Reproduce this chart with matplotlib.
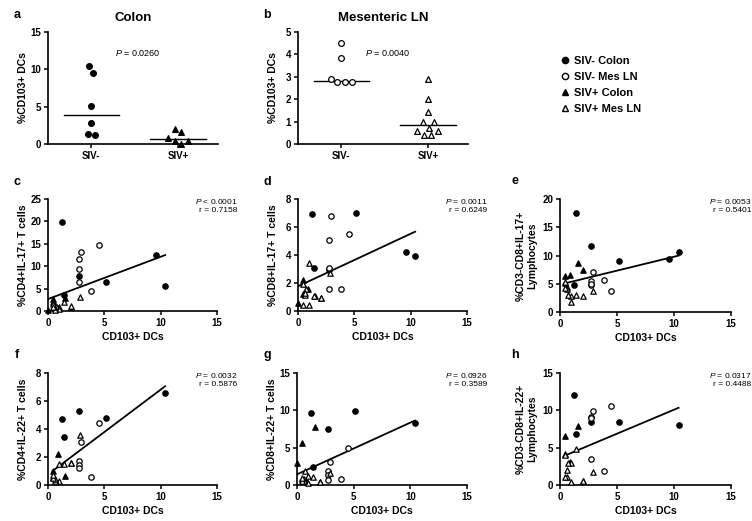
import numpy as np
import matplotlib
matplotlib.use("Agg")
import matplotlib.pyplot as plt
from matplotlib.lines import Line2D

plt.rcParams['font.family'] = ['Liberation Sans', 'DejaVu Sans']
plt.rcParams['mathtext.fontset'] = 'custom'
plt.rcParams['mathtext.it'] = 'Liberation Sans:italic'
plt.rcParams['mathtext.rm'] = 'Liberation Sans'

nan = np.nan

# %CD103+ DCs per group (panels a and b, and x values of panels c-h)
colon_neg_x = [10.4, 9.55, 5.15, 2.75, 1.2, 1.4]
colon_pos_x = [2.0, 1.55, 0.85, 0.4, 0.4, 0.0]
mes_neg_x = [4.5, 3.86, 2.76, 2.76, 2.76, 2.9]
mes_pos_x = [2.88, 2.02, 1.41, 0.96, 0.96, 0.73, 0.58, 0.58, 0.42, 0.42]

# y values of the correlation panels, same order as the x lists above
c_colon_neg = [5.6, 12.6, 6.5, 7.8, 19.9, 3.5]
c_mes_neg = [14.8, 4.5, 11.6, 9.3, 6.5, 13.1]
c_colon_pos = [1.0, 3.0, 0.7, 2.6, 2.0, 0.2]
c_mes_pos = [3.1, 1.1, 1.9, 0.9, 0.5, 1.2, 0.6, 0.3, 1.5, 0.8]

d_colon_neg = [3.95, 4.2, 7.0, 2.9, 6.95, 3.1]
d_mes_neg = [5.5, 1.55, 5.1, 1.55, 3.1, 6.8]
d_colon_pos = [0.95, 1.1, 1.6, 2.2, 1.2, 0.6]
d_mes_pos = [2.7, 0.95, 1.1, 3.4, 0.4, 1.6, 1.15, 1.3, 1.9, 0.4]

e_colon_neg = [10.6, 9.3, 9.0, 11.6, 4.8, 17.5]
e_mes_neg = [3.7, 5.7, 5.5, 4.8, 5.0, 7.0]
e_colon_pos = [7.4, 8.6, 6.5, 6.4, 5.2, nan]
e_mes_pos = [3.7, 2.8, 3.0, 1.8, 2.9, 3.0, 4.5, 4.0, 5.3, 4.2]

f_colon_neg = [6.6, nan, 4.8, 5.3, 4.75, 3.4]
f_mes_neg = [4.4, 0.55, 1.7, 1.4, 1.2, 3.1]
f_colon_pos = [1.6, 0.67, 2.25, 1.0, 0.6, nan]
f_mes_pos = [3.6, 1.6, 1.5, 1.5, 0.3, 0.2, 0.3, 0.4, 0.5, 0.7]

g_colon_neg = [8.3, nan, 9.9, 7.5, 9.6, 2.4]
g_mes_neg = [5.0, 0.75, 1.9, 1.35, 0.7, 3.1]
g_colon_pos = [0.45, 7.75, 0.35, 5.6, 0.8, 2.9]
g_mes_pos = [1.6, 0.4, 1.1, 1.25, 0.3, 1.9, 0.8, 0.5, 0.6, 0.9]

h_colon_neg = [8.0, nan, 8.4, 8.5, 12.0, 6.8]
h_mes_neg = [10.6, 1.9, 9.05, 3.5, 9.0, 9.95]
h_colon_pos = [0.55, 7.9, 3.05, 6.6, 4.2, nan]
h_mes_pos = [1.8, 0.5, 4.8, 0.35, 3.0, 2.9, 2.0, 1.1, 1.1, 4.0]

group_labels = ['SIV- Colon', 'SIV- Mes LN', 'SIV+ Colon', 'SIV+ Mes LN']
category_labels = ['SIV-', 'SIV+']

W, H = 752, 521

# marker style per group: (marker, filled)
STYLES = [('o', True), ('o', False), ('^', True), ('^', False)]


def add_axes_px(fig, left, top, right, bottom):
    """Add axes given pixel box (left, top, right, bottom) of the figure."""
    return fig.add_axes([left / W, (H - bottom) / H, (right - left) / W, (bottom - top) / H])


def style_axes(ax, yticks, ylabel, label_dx):
    ax.spines['top'].set_visible(False)
    ax.spines['right'].set_visible(False)
    for s in ('left', 'bottom'):
        ax.spines[s].set_linewidth(1.2)
    ax.tick_params(direction='out', length=3, width=1.1, labelsize=7, pad=2)
    ax.set_yticks(yticks)
    ax.set_ylim(yticks[0], yticks[-1])
    ax.set_ylabel(ylabel, fontsize=7.5, fontweight='bold', linespacing=1.1)
    w_px = ax.get_position().width * W
    ax.yaxis.set_label_coords(label_dx / w_px, 0.5)
    for lab in ax.get_xticklabels() + ax.get_yticklabels():
        lab.set_fontweight('bold')


def draw_marker(ax, x, y, style, size=15):
    marker, filled = style
    ax.scatter(x, y, s=size, marker=marker, facecolors='black' if filled else 'white',
               edgecolors='black', linewidths=0.9, clip_on=False, zorder=3)


def swarm_offsets(ax, values, center, diam=7.5):
    """Spread points with close values sideways, like a GraphPad dot plot."""
    values = np.asarray(values, dtype=float)
    pts = ax.transData.transform(np.column_stack([np.full(len(values), center), values]))
    ys = pts[:, 1]
    order = np.argsort(ys)
    dx = np.zeros(len(values))
    placed = []
    for i in order:
        forbidden = []
        for px, py in placed:
            dy = abs(ys[i] - py)
            if dy < diam:
                w = np.sqrt(diam ** 2 - dy ** 2)
                forbidden.append((px - w, px + w))
        cands = sorted([0.0] + [e for f in forbidden for e in f], key=abs)
        for cnd in cands:
            if all(not (lo + 1e-6 < cnd < hi - 1e-6) for lo, hi in forbidden):
                dx[i] = cnd
                break
        placed.append((dx[i], ys[i]))
    # centre each cluster of touching points on the category
    cluster = [order[0]]
    for prev, cur in zip(order[:-1], order[1:]):
        if ys[cur] - ys[prev] < diam:
            cluster.append(cur)
        else:
            dx[cluster] -= dx[cluster].mean()
            cluster = [cur]
    dx[cluster] -= dx[cluster].mean()
    px_per_unit = ax.transData.transform((1, 0))[0] - ax.transData.transform((0, 0))[0]
    return center + dx / px_per_unit


def dot_panel(ax, groups, styles, yticks, title, p_text):
    ax.set_xlim(0.5, 2.46)
    style_axes(ax, yticks, '%CD103+ DCs', -20)
    ax.set_xticks([1, 2])
    ax.set_xticklabels(category_labels, fontweight='bold')
    for pos, vals, st in zip([1, 2], groups, styles):
        xs = swarm_offsets(ax, vals, pos)
        draw_marker(ax, xs, vals, st, size=17)
        med = np.median(vals)
        ax.plot([pos - 0.32, pos + 0.32], [med, med], color='black', lw=1.0, zorder=2)
    ax.set_title(title, fontsize=9.5, fontweight='bold', pad=8)
    ax.text(0.394, 0.81, p_text, transform=ax.transAxes, fontsize=6.5, va='center')


def corr_panel(ax, ys, yticks, ylabel, p_text, r_text, label_dx=-20):
    ax.set_xlim(0, 15)
    ax.set_xticks([0, 5, 10, 15])
    style_axes(ax, yticks, ylabel, label_dx)
    ax.set_xlabel('CD103+ DCs', fontsize=7.5, fontweight='bold')
    ax.xaxis.set_label_coords(0.5, -0.19)
    xs_all = [colon_neg_x, mes_neg_x, colon_pos_x, mes_pos_x]
    allx, ally = [], []
    for xs, yv, st in zip(xs_all, ys, STYLES):
        xs = np.asarray(xs, dtype=float)
        yv = np.asarray(yv, dtype=float)
        ok = ~np.isnan(yv)
        draw_marker(ax, xs[ok], yv[ok], st)
        allx.extend(xs[ok])
        ally.extend(yv[ok])
    allx, ally = np.array(allx), np.array(ally)
    slope, icpt = np.polyfit(allx, ally, 1)
    xl = np.array([allx.min(), allx.max()])
    ax.plot(xl, icpt + slope * xl, color='black', lw=1.3, zorder=2)
    h_px = ax.get_position().height * H
    ax.text(1.118, 1 - 5 / h_px, p_text, transform=ax.transAxes, fontsize=6,
            ha='right', va='baseline')
    ax.text(1.118, 1 - 12.5 / h_px, r_text, transform=ax.transAxes, fontsize=6,
            ha='right', va='baseline')


def run():
    fig = plt.figure(figsize=(W / 100, H / 100), dpi=100)

    ax_a = add_axes_px(fig, 48, 32, 218, 144)
    dot_panel(ax_a, [colon_neg_x, colon_pos_x], [STYLES[0], STYLES[2]],
              [0, 5, 10, 15], 'Colon', '$P$ = 0.0260')
    ax_b = add_axes_px(fig, 298, 32, 468, 144)
    dot_panel(ax_b, [mes_neg_x, mes_pos_x], [STYLES[1], STYLES[3]],
              [0, 1, 2, 3, 4, 5], 'Mesenteric LN', '$P$ = 0.0040')

    ax_c = add_axes_px(fig, 48, 199, 217, 311)
    corr_panel(ax_c, [c_colon_neg, c_mes_neg, c_colon_pos, c_mes_pos], [0, 5, 10, 15, 20, 25],
               '%CD4+IL-17+ T cells', '$P$ < 0.0001', 'r = 0.7158')
    ax_d = add_axes_px(fig, 298, 199, 467, 311)
    corr_panel(ax_d, [d_colon_neg, d_mes_neg, d_colon_pos, d_mes_pos], [0, 2, 4, 6, 8],
               '%CD8+IL-17+ T cells', '$P$ = 0.0011', 'r = 0.6249')
    ax_e = add_axes_px(fig, 560, 199, 731, 312)
    corr_panel(ax_e, [e_colon_neg, e_mes_neg, e_colon_pos, e_mes_pos], [0, 5, 10, 15, 20],
               '%CD3-CD8+IL-17+\nLymphocytes', '$P$ = 0.0053', 'r = 0.5401', label_dx=-23)
    ax_f = add_axes_px(fig, 48, 373, 217, 485)
    corr_panel(ax_f, [f_colon_neg, f_mes_neg, f_colon_pos, f_mes_pos], [0, 2, 4, 6, 8],
               '%CD4+IL-22+ T cells', '$P$ = 0.0032', 'r = 0.5876')
    ax_g = add_axes_px(fig, 297, 373, 467, 485)
    corr_panel(ax_g, [g_colon_neg, g_mes_neg, g_colon_pos, g_mes_pos], [0, 5, 10, 15],
               '%CD8+IL-22+ T cells', '$P$ = 0.0926', 'r = 0.3589')
    ax_h = add_axes_px(fig, 560, 373, 731, 485)
    corr_panel(ax_h, [h_colon_neg, h_mes_neg, h_colon_pos, h_mes_pos], [0, 5, 10, 15],
               '%CD3-CD8+IL-22+\nLymphocytes', '$P$ = 0.0317', 'r = 0.4488', label_dx=-23)

    # panel letters
    for letter, (px, py) in zip('abcdefgh', [(17, 15), (267, 15), (17, 182), (267, 182),
                                            (515, 181), (17, 355), (267, 355), (515, 355)]):
        fig.text(px / W, 1 - py / H, letter, fontsize=9, fontweight='bold', ha='center', va='center')

    # legend
    handles = [Line2D([], [], ls='none', marker=m, markersize=4.5,
                      markerfacecolor='black' if f else 'white', markeredgecolor='black',
                      markeredgewidth=1.0) for m, f in STYLES]
    fig.legend(handles, group_labels, loc='upper left', bbox_to_anchor=(551 / W, 1 - 46 / H),
               frameon=False, handlelength=0.8, handletextpad=0.4, labelspacing=0.55,
               prop={'weight': 'bold', 'size': 8})

    fig.savefig('out.png', dpi=100)


if __name__ == "__main__":
    run()
